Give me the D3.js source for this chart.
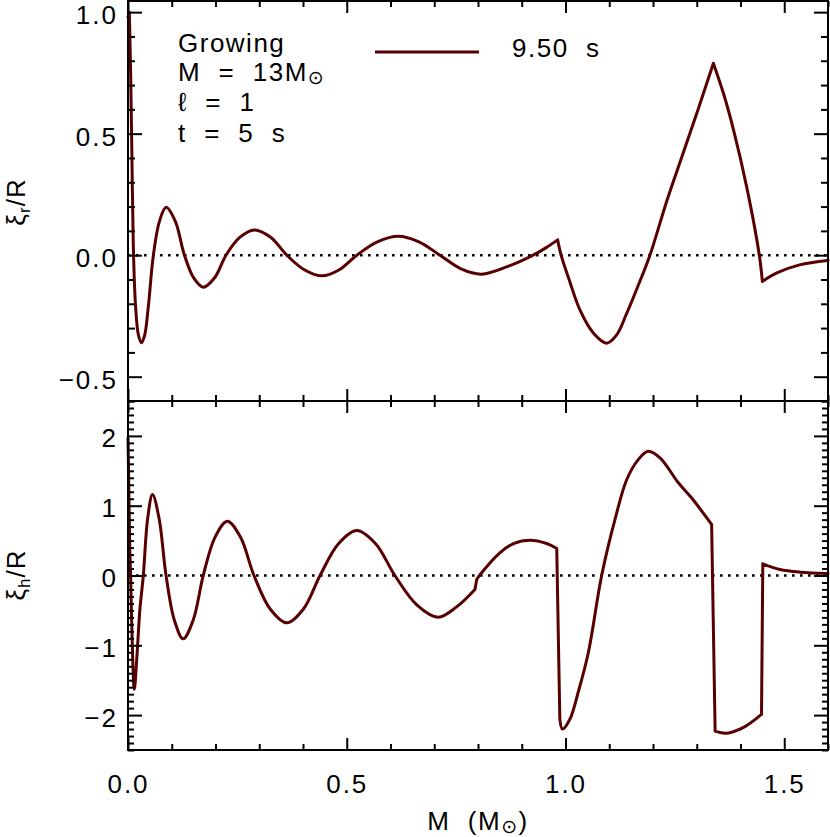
<!DOCTYPE html>
<html>
<head>
<meta charset="utf-8">
<script src="https://cdn.jsdelivr.net/npm/d3@7"></script>
<style>
  html, body { margin: 0; padding: 0; background: #fff; }
  svg { display: block; }
  text { font-family: "Liberation Sans", "DejaVu Sans", sans-serif; fill: #000; }
</style>
</head>
<body>
<div id="chart"></div>
<script>
// ---------- data ----------
const xrMass = [0, 0.003, 0.006, 0.009, 0.012, 0.017, 0.024, 0.031, 0.038, 0.046, 0.058, 0.072, 0.087, 0.108, 0.129, 0.150, 0.172, 0.198, 0.224, 0.256, 0.289, 0.326, 0.363, 0.403, 0.443, 0.483, 0.523, 0.570, 0.618, 0.665, 0.713, 0.760, 0.808, 0.870, 0.926, 0.955, 0.982, 0.990, 1.010, 1.033, 1.064, 1.094, 1.117, 1.140, 1.165, 1.193, 1.231, 1.269, 1.305, 1.338, 1.362, 1.384, 1.414, 1.443, 1.450, 1.482, 1.535, 1.600];
const xrValues = [0.98, 1.0, 0.75, 0.4, 0.05, -0.2, -0.33, -0.36, -0.33, -0.22, 0, 0.14, 0.197, 0.14, 0, -0.093, -0.132, -0.093, 0, 0.074, 0.104, 0.074, 0, -0.06, -0.085, -0.06, 0, 0.055, 0.078, 0.055, 0, -0.055, -0.078, -0.045, 0, 0.03, 0.063, 0.0, -0.11, -0.225, -0.321, -0.362, -0.328, -0.239, -0.13, 0, 0.22, 0.42, 0.61, 0.79, 0.66, 0.516, 0.282, 0, -0.108, -0.074, -0.04, -0.022];
// masses where ξr has a corner
const xrKinks = [0.003, 0.982, 1.338, 1.450];

const xhMass = [0, 0.002, 0.004, 0.006, 0.009, 0.0145, 0.020, 0.027, 0.035, 0.045, 0.056, 0.071, 0.087, 0.106, 0.126, 0.149, 0.172, 0.199, 0.227, 0.257, 0.288, 0.325, 0.363, 0.401, 0.439, 0.481, 0.523, 0.566, 0.610, 0.660, 0.709, 0.751, 0.793, 0.797, 0.805, 0.850, 0.881, 0.919, 0.957, 0.980, 0.987, 0.993, 1.010, 1.030, 1.052, 1.083, 1.113, 1.140, 1.165, 1.189, 1.216, 1.258, 1.288, 1.334, 1.342, 1.368, 1.406, 1.448, 1.451, 1.490, 1.536, 1.600];
const xhValues = [1.97, 1.2, 0.4, 0.0, -0.8, -1.63, -1.2, -0.5, 0, 0.82, 1.16, 0.82, 0, -0.64, -0.907, -0.64, 0, 0.55, 0.778, 0.55, 0, -0.48, -0.678, -0.48, 0, 0.456, 0.645, 0.456, 0, -0.42, -0.597, -0.45, -0.2, -0.057, 0.014, 0.325, 0.458, 0.506, 0.458, 0.387, -2.05, -2.2, -2.06, -1.65, -1.11, 0.01, 0.8, 1.375, 1.65, 1.781, 1.686, 1.328, 1.113, 0.731, -2.23, -2.26, -2.18, -1.99, 0.167, 0.086, 0.048, 0.029];
// masses where ξh has a corner
const xhKinks = [0.793, 0.797, 0.980, 0.987, 1.334, 1.342, 1.448, 1.451];

const xMajorTicks = [0, 0.5, 1.0, 1.5];
const xMinorTicks = [0.1, 0.2, 0.3, 0.4, 0.6, 0.7, 0.8, 0.9, 1.1, 1.2, 1.3, 1.4, 1.6];
const topMajorTicks = [-0.5, 0, 0.5, 1.0];
const topMinorTicks = [-0.6, -0.4, -0.3, -0.2, -0.1, 0.1, 0.2, 0.3, 0.4, 0.6, 0.7, 0.8, 0.9];
const botMajorTicks = [-2, -1, 0, 1, 2];
const botMinorTicks = d3.range(-25, 26).filter(d => d % 10 !== 0).map(d => d / 10);

const legendLabel = "9.50  s";
const lineColor = "#580000";

// ---------- layout ----------
const W = 830, H = 837;
const X0 = 128, X1 = 828;
const P1top = 1, P1bot = 401, P2top = 401, P2bot = 750;

const svg = d3.select("#chart").append("svg").attr("width", W).attr("height", H);

const x = d3.scaleLinear().domain([0, 1.6]).range([X0, X1]);
const yTop = d3.scaleLinear().domain([-0.6, 1.05]).range([P1bot, 0]);
const yBot = d3.scaleLinear().domain([-2.5, 2.5]).range([P2bot, P2top]);

const fs = 26;
function styleText(g) {
  g.selectAll("text").style("font-size", fs + "px").style("letter-spacing", "2px").attr("fill", "#000");
  g.selectAll(".domain").remove();
  g.selectAll("line").attr("stroke", "#000").attr("stroke-width", 2);
}

// zero dotted lines
[yTop, yBot].forEach(ys => {
  svg.append("line")
    .attr("x1", X0).attr("x2", X1)
    .attr("y1", ys(0)).attr("y2", ys(0))
    .attr("stroke", "#000").attr("stroke-width", 2.6)
    .attr("stroke-dasharray", "2.6,5.4");
});

// curves: smooth pieces joined at corner points
function piecewisePath(masses, values, kinks, ys) {
  const pts = masses.map((m, i) => [m, values[i]]);
  const segs = [];
  let cur = [];
  pts.forEach(p => {
    cur.push(p);
    if (kinks.some(k => Math.abs(k - p[0]) < 1e-9)) {
      segs.push(cur);
      cur = [p];
    }
  });
  if (cur.length > 1) segs.push(cur);
  const ln = d3.line().x(d => x(d[0])).y(d => ys(d[1])).curve(d3.curveCatmullRom.alpha(0.5));
  return segs.map(s => ln(s)).join("");
}

svg.append("path").attr("d", piecewisePath(xrMass, xrValues, xrKinks, yTop))
  .attr("fill", "none").attr("stroke", lineColor).attr("stroke-width", 3)
  .attr("stroke-linejoin", "round").attr("stroke-linecap", "round");
svg.append("path").attr("d", piecewisePath(xhMass, xhValues, xhKinks, yBot))
  .attr("fill", "none").attr("stroke", lineColor).attr("stroke-width", 3)
  .attr("stroke-linejoin", "round").attr("stroke-linecap", "round");

// frames
svg.append("rect").attr("x", X0).attr("y", P1top).attr("width", X1 - X0).attr("height", P1bot - P1top)
  .attr("fill", "none").attr("stroke", "#000").attr("stroke-width", 2);
svg.append("rect").attr("x", X0).attr("y", P2top).attr("width", X1 - X0).attr("height", P2bot - P2top)
  .attr("fill", "none").attr("stroke", "#000").attr("stroke-width", 2);

// ---- y axes top panel ----
svg.append("g").attr("transform", `translate(${X0},0)`)
  .call(d3.axisLeft(yTop).tickValues(topMajorTicks).tickSize(-14).tickPadding(10).tickFormat(d3.format(".1f")))
  .call(styleText)
  .call(g => g.selectAll("text").attr("dy", "0.45em"));
svg.append("g").attr("transform", `translate(${X0},0)`)
  .call(d3.axisLeft(yTop).tickValues(topMinorTicks).tickSize(-7).tickFormat(""))
  .call(styleText);
svg.append("g").attr("transform", `translate(${X1},0)`)
  .call(d3.axisRight(yTop).tickValues(topMajorTicks).tickSize(-14).tickFormat(""))
  .call(styleText);
svg.append("g").attr("transform", `translate(${X1},0)`)
  .call(d3.axisRight(yTop).tickValues(topMinorTicks).tickSize(-7).tickFormat(""))
  .call(styleText);

// ---- y axes bottom panel ----
svg.append("g").attr("transform", `translate(${X0},0)`)
  .call(d3.axisLeft(yBot).tickValues(botMajorTicks).tickSize(-14).tickPadding(10).tickFormat(d3.format("d")))
  .call(styleText)
  .call(g => g.selectAll("text").attr("dy", "0.42em"));
svg.append("g").attr("transform", `translate(${X0},0)`)
  .call(d3.axisLeft(yBot).tickValues(botMinorTicks).tickSize(-6).tickFormat(""))
  .call(styleText);
svg.append("g").attr("transform", `translate(${X1},0)`)
  .call(d3.axisRight(yBot).tickValues(botMajorTicks).tickSize(-14).tickFormat(""))
  .call(styleText);
svg.append("g").attr("transform", `translate(${X1},0)`)
  .call(d3.axisRight(yBot).tickValues(botMinorTicks).tickSize(-6).tickFormat(""))
  .call(styleText);

// ---- x axes ----
function xTicks(yPos, dir, labels) {
  const mk = dir === "top" ? d3.axisTop : d3.axisBottom;
  svg.append("g").attr("transform", `translate(0,${yPos})`)
    .call(mk(x).tickValues(xMajorTicks).tickSize(-12).tickPadding(25).tickFormat(labels ? d3.format(".1f") : ""))
    .call(styleText);
  svg.append("g").attr("transform", `translate(0,${yPos})`)
    .call(mk(x).tickValues(xMinorTicks).tickSize(-6).tickFormat(""))
    .call(styleText);
}
xTicks(P1top, "top", false);
xTicks(P1bot, "bottom", false);
xTicks(P2top, "top", false);
xTicks(P2bot, "bottom", true);

// ---- annotation text ----
const ann = svg.append("g").style("font-size", fs + "px").style("letter-spacing", "1.5px");
ann.append("text").attr("x", 178).attr("y", 52).text("Growing");
const mline = ann.append("text").attr("x", 178).attr("y", 81).attr("xml:space", "preserve");
mline.append("tspan").text("M  =  13M");
mline.append("tspan").attr("font-size", "19px").attr("dy", 3).text("⊙");
ann.append("text").attr("x", 178).attr("y", 111).attr("xml:space", "preserve").text("ℓ  =  1");
ann.append("text").attr("x", 178).attr("y", 142).attr("xml:space", "preserve").text("t  =  5  s");

// legend
svg.append("line").attr("x1", 375).attr("x2", 479).attr("y1", 52).attr("y2", 52)
  .attr("stroke", lineColor).attr("stroke-width", 3);
svg.append("text").attr("x", 512).attr("y", 57).attr("xml:space", "preserve")
  .style("font-size", fs + "px").style("letter-spacing", "1.5px").text(legendLabel);

// axis titles
const xl = svg.append("text").attr("x", 478).attr("y", 830).attr("text-anchor", "middle")
  .attr("xml:space", "preserve").style("font-size", fs + "px").style("letter-spacing", "1.5px");
xl.append("tspan").text("M  (M");
xl.append("tspan").attr("font-size", "19px").attr("dy", 3).text("⊙");
xl.append("tspan").attr("dy", -3).text(")");

function yLabel(cy, sub) {
  const t = svg.append("text").attr("transform", `translate(25,${cy}) rotate(-90)`)
    .attr("text-anchor", "middle").style("font-size", fs + "px").style("letter-spacing", "1px");
  t.append("tspan").text("ξ");
  t.append("tspan").attr("font-size", "17px").attr("dy", 5).text(sub);
  t.append("tspan").attr("dy", -5).text("/R");
}
yLabel(202, "r");
yLabel(575, "h");
</script>
</body>
</html>
